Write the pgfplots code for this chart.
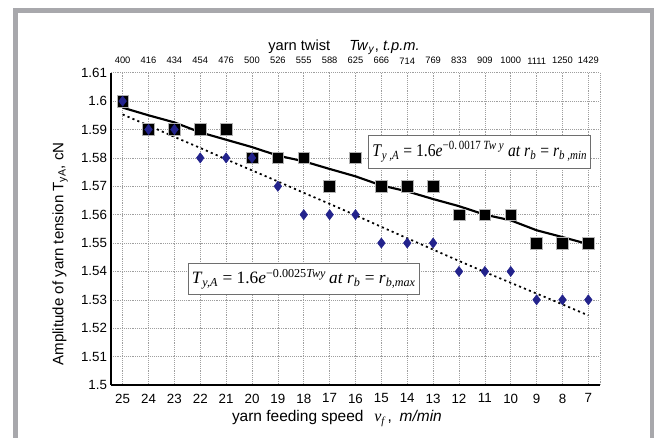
\documentclass[border=0pt]{standalone}
\usepackage{fontspec}
\setmainfont{Liberation Sans}
\newfontfamily\tnr{Liberation Serif}
\usepackage{graphicx}
\usepackage{pgfplots}
\usepackage{pgfplotstable}
\pgfplotsset{compat=1.18}

\definecolor{framegray}{RGB}{168,168,172}
\definecolor{dblue}{RGB}{35,35,140}
\definecolor{boxgray}{RGB}{110,110,110}

% i = position on the axis, tw = yarn twist, v = feeding speed
\pgfplotstableread{
i  tw    v   sq    di
0  400   25  1.60  1.60
1  416   24  1.59  1.59
2  434   23  1.59  1.59
3  454   22  1.59  1.58
4  476   21  1.59  1.58
5  500   20  1.58  1.58
6  526   19  1.58  1.57
7  555   18  1.58  1.56
8  588   17  1.57  1.56
9  625   16  1.58  1.56
10 666   15  1.57  1.55
11 714   14  1.57  1.55
12 769   13  1.57  1.55
13 833   12  1.56  1.54
14 909   11  1.56  1.54
15 1000  10  1.56  1.54
16 1111  9   1.55  1.53
17 1250  8   1.55  1.53
18 1429  7   1.55  1.53
}\datatab

% fitted curves
\pgfplotstableread{
i   fmin    fmax
0   1.5977  1.5953
1   1.5950  1.5914
2   1.5925  1.5874
3   1.5890  1.5835
4   1.5864  1.5795
5   1.5838  1.5756
6   1.5808  1.5717
7   1.5788  1.5677
8   1.5761  1.5638
9   1.5735  1.5598
10  1.5703  1.5557
11  1.5682  1.5517
12  1.5655  1.5477
13  1.5630  1.5437
14  1.5600  1.5398
15  1.5580  1.5360
16  1.5545  1.5322
17  1.5521  1.5284
18  1.5496  1.5245
}\fittab

\begin{document}
\begin{tikzpicture}
\useasboundingbox (0,0) rectangle (490.5pt,328.5pt);
% grey frame of the figure panel (1px = 0.75pt)
\fill[framegray] (9.75pt,0pt) rectangle (13.5pt,322.5pt);
\fill[framegray] (9.75pt,318.75pt) rectangle (490.5pt,322.5pt);
\fill[framegray] (487.5pt,0pt) rectangle (490.5pt,322.5pt);

% top axis: yarn twist
\begin{axis}[
  at={(83.25pt,39.75pt)}, anchor=south west,
  scale only axis, width=366.75pt, height=234.2pt,
  xmin=-0.45, xmax=18.45, ymin=1.5, ymax=1.61,
  axis x line*=top, axis y line=none,
  axis line style={draw=none},
  xtick={0,...,18},
  xticklabels={400,416,434,454,476,500,526,555,588,625,666,714,769,833,909,1000,1111,1250,1429},
  major tick length=0pt,
  xticklabel style={font=\fontsize{7}{8}\selectfont, yshift=3pt},
  xlabel={yarn twist\hspace{1.3em}\textit{Tw}\textsubscript{\textit{y}}, \textit{t.p.m.}},
  xlabel style={font=\fontsize{11}{13}\selectfont, at={(axis description cs:0.4765,1.0727)}, anchor=base},
]
\end{axis}

% main axis: yarn feeding speed
\begin{axis}[
  at={(83.25pt,39.75pt)}, anchor=south west,
  scale only axis, width=366.75pt, height=234.2pt,
  xmin=-0.45, xmax=18.45, ymin=1.5, ymax=1.61,
  axis x line*=bottom, axis y line*=left,
  axis line style={black, line width=0.9pt},
  xtick={0,...,18},
  xticklabels={25,24,23,22,21,20,19,18,17,16,15,14,13,12,11,10,9,8,7},
  ytick={1.5,1.51,1.52,1.53,1.54,1.55,1.56,1.57,1.58,1.59,1.6,1.61},
  yticklabels={1.5,1.51,1.52,1.53,1.54,1.55,1.56,1.57,1.58,1.59,1.6,1.61},
  major tick length=0pt,
  grid=major,
  grid style={densely dotted, gray!75, line width=0.45pt},
  tick label style={font=\fontsize{10}{12}\selectfont},
  xticklabel style={yshift=-3pt},
  yticklabel style={xshift=0.5pt},
  xlabel={yarn feeding speed\hspace{0.7em}{\tnr\itshape\fontsize{12}{14}\selectfont v\textsubscript{f}}\,,\hspace{0.5em}\textit{m/min}},
  xlabel style={font=\fontsize{11.6}{13}\selectfont, at={(axis description cs:0.462,-0.1175)}, anchor=base},
  ylabel={Amplitude of yarn tension T\textsubscript{yA}, cN},
  ylabel style={font=\fontsize{11.3}{13}\selectfont, at={(axis description cs:-0.104,0.42)}, anchor=center},
  clip=false,
]
\draw[densely dotted, gray!75, line width=0.45pt] (rel axis cs:1,0) -- (rel axis cs:1,1);

\addplot[only marks, mark=square*, mark size=4.4pt,
  mark options={fill=black, draw=gray!60, line width=0.4pt}]
  table[x=i, y=sq] {\datatab};
\addplot[black, line width=1.6pt] table[x=i, y=fmin] {\fittab};
\addplot[black, line width=1.3pt, dash pattern=on 1.6pt off 2.4pt] table[x=i, y=fmax] {\fittab};
\addplot[only marks, mark=diamond*, mark size=3.8pt, dblue,
  mark options={draw=dblue, fill=dblue}]
  table[x=i, y=di] {\datatab};

\node[draw=boxgray, fill=white, line width=0.8pt, inner xsep=2.5pt, inner ysep=4.5pt,
  font=\tnr\fontsize{13.4}{16}\selectfont] at (axis cs:13.8,1.5821)
  {\scalebox{0.875}[1]{\textit{T}\textsubscript{\textit{y ,A}} = 1.6\textit{e}\textsuperscript{−0.\,0017 \textit{Tw y}} \textit{at r}\textsubscript{\textit{b}} = \textit{r}\textsubscript{\textit{b ,min}}}};
\node[draw=boxgray, fill=white, line width=0.8pt, inner xsep=2.5pt, inner ysep=4.5pt,
  font=\tnr\fontsize{13}{16}\selectfont] at (axis cs:7.0,1.5372)
  {\textit{T}\textsubscript{\textit{y,A}} = 1.6\textit{e}\textsuperscript{−0.0025\textit{Twy}}\,\textit{at r}\textsubscript{\textit{b}} = \textit{r}\textsubscript{\textit{b,max}}};
\end{axis}
\end{tikzpicture}
\end{document}
